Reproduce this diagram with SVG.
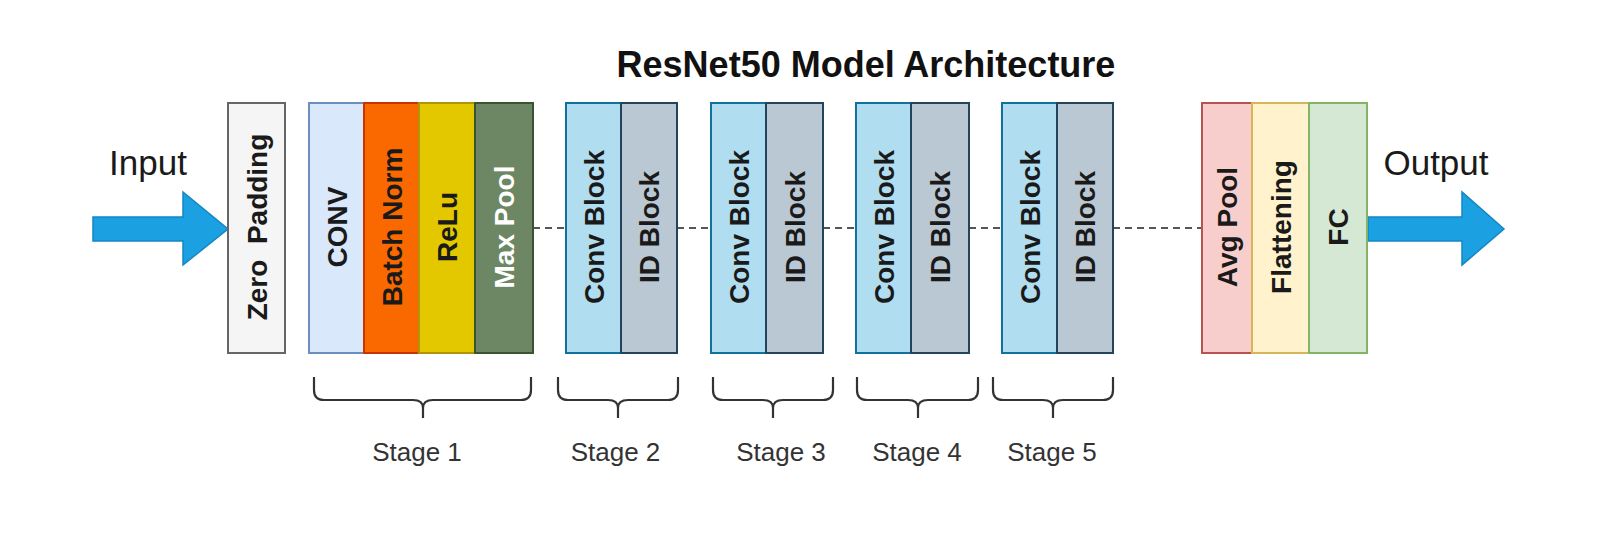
<svg xmlns="http://www.w3.org/2000/svg" width="1612" height="534" viewBox="0 0 1612 534">
<style>
  .blk { stroke-width: 2; }
  .lbl { font-family: "Liberation Sans", Arial, sans-serif; font-size: 28px; font-weight: bold; fill: #1a1a1a; text-anchor: middle; }
  .big { font-family: "Liberation Sans", Arial, sans-serif; font-size: 35px; fill: #1a1a1a; text-anchor: middle; }
  .stage { font-family: "Liberation Sans", Arial, sans-serif; font-size: 26px; fill: #333333; text-anchor: middle; }
  .title { font-family: "Liberation Sans", Arial, sans-serif; font-size: 36px; font-weight: bold; fill: #111111; text-anchor: middle; }
  .dash { stroke: #555555; stroke-width: 2; stroke-dasharray: 7 5; fill: none; }
  .brace { stroke: #333333; stroke-width: 2.2; fill: none; }
  .arrow { fill: #1ba1e2; stroke: #1386c4; stroke-width: 1.5; }
  .zp { fill: #f5f5f5; stroke: #666666; }
  .conv { fill: #dae8fc; stroke: #6c8ebf; }
  .bn { fill: #fa6800; stroke: #c73500; }
  .relu { fill: #e3c800; stroke: #b09500; }
  .mp { fill: #6d8764; stroke: #3a5431; }
  .cb { fill: #b1ddf0; stroke: #10739e; }
  .idb { fill: #bac8d3; stroke: #23445d; }
  .avg { fill: #f8cecc; stroke: #b85450; }
  .flat { fill: #fff2cc; stroke: #d6b656; }
  .fc { fill: #d5e8d4; stroke: #82b366; }
</style>

<text id="title" class="title" x="866" y="77">ResNet50 Model Architecture</text>

<g id="input">
  <text class="big" x="148" y="175">Input</text>
  <polygon class="arrow" points="93,217 183,217 183,192 228,229 183,265 183,241 93,241"/>
</g>

<g id="output">
  <text class="big" x="1436" y="175">Output</text>
  <polygon class="arrow" points="1368,217 1462,217 1462,192 1504,229 1462,265 1462,241 1368,241"/>
</g>

<g id="connectors">
  <line class="dash" x1="533" y1="228" x2="566" y2="228"/>
  <line class="dash" x1="677" y1="228" x2="711" y2="228"/>
  <line class="dash" x1="823" y1="228" x2="856" y2="228"/>
  <line class="dash" x1="969" y1="228" x2="1002" y2="228"/>
  <line class="dash" x1="1113" y1="228" x2="1202" y2="228"/>
</g>

<g id="zero-padding">
  <rect class="blk zp" x="228" y="103" width="57" height="250"/>
  <text class="lbl" xml:space="preserve" transform="translate(256.5,227) rotate(-90)" x="0" y="10">Zero  Padding</text>
</g>

<g id="stage1">
  <g id="conv">
    <rect class="blk conv" x="309" y="103" width="55" height="250"/>
    <text class="lbl" transform="translate(336.5,227) rotate(-90)" x="0" y="10">CONV</text>
  </g>
  <g id="batch-norm">
    <rect class="blk bn" x="364" y="103" width="55" height="250"/>
    <text class="lbl" transform="translate(391.5,227) rotate(-90)" x="0" y="10">Batch Norm</text>
  </g>
  <g id="relu">
    <rect class="blk relu" x="419" y="103" width="56" height="250"/>
    <text class="lbl" transform="translate(447,227) rotate(-90)" x="0" y="10">ReLu</text>
  </g>
  <g id="max-pool">
    <rect class="blk mp" x="475" y="103" width="58" height="250"/>
    <text class="lbl" style="fill:#ffffff" transform="translate(504,227) rotate(-90)" x="0" y="10">Max Pool</text>
  </g>
</g>

<g id="stage2">
  <g id="s2-conv">
    <rect class="blk cb" x="566" y="103" width="55" height="250"/>
    <text class="lbl" transform="translate(593.5,227) rotate(-90)" x="0" y="10">Conv Block</text>
  </g>
  <g id="s2-id">
    <rect class="blk idb" x="621" y="103" width="56" height="250"/>
    <text class="lbl" transform="translate(649,227) rotate(-90)" x="0" y="10">ID Block</text>
  </g>
</g>

<g id="stage3">
  <g id="s3-conv">
    <rect class="blk cb" x="711" y="103" width="55" height="250"/>
    <text class="lbl" transform="translate(738.5,227) rotate(-90)" x="0" y="10">Conv Block</text>
  </g>
  <g id="s3-id">
    <rect class="blk idb" x="766" y="103" width="57" height="250"/>
    <text class="lbl" transform="translate(794.5,227) rotate(-90)" x="0" y="10">ID Block</text>
  </g>
</g>

<g id="stage4">
  <g id="s4-conv">
    <rect class="blk cb" x="856" y="103" width="55" height="250"/>
    <text class="lbl" transform="translate(883.5,227) rotate(-90)" x="0" y="10">Conv Block</text>
  </g>
  <g id="s4-id">
    <rect class="blk idb" x="911" y="103" width="58" height="250"/>
    <text class="lbl" transform="translate(940,227) rotate(-90)" x="0" y="10">ID Block</text>
  </g>
</g>

<g id="stage5">
  <g id="s5-conv">
    <rect class="blk cb" x="1002" y="103" width="55" height="250"/>
    <text class="lbl" transform="translate(1029.5,227) rotate(-90)" x="0" y="10">Conv Block</text>
  </g>
  <g id="s5-id">
    <rect class="blk idb" x="1057" y="103" width="56" height="250"/>
    <text class="lbl" transform="translate(1085,227) rotate(-90)" x="0" y="10">ID Block</text>
  </g>
</g>

<g id="head">
  <g id="avg-pool">
    <rect class="blk avg" x="1202" y="103" width="50" height="250"/>
    <text class="lbl" transform="translate(1227,227) rotate(-90)" x="0" y="10">Avg Pool</text>
  </g>
  <g id="flattening">
    <rect class="blk flat" x="1252" y="103" width="57" height="250"/>
    <text class="lbl" transform="translate(1280.5,227) rotate(-90)" x="0" y="10">Flattening</text>
  </g>
  <g id="fc">
    <rect class="blk fc" x="1309" y="103" width="58" height="250"/>
    <text class="lbl" transform="translate(1338,227) rotate(-90)" x="0" y="10">FC</text>
  </g>
</g>

<g id="braces">
  <path class="brace" d="M314,377 L314,390 Q314,400 324,400 L413,400 Q423,400 423,408 Q423,400 433,400 L521,400 Q531,400 531,390 L531,377 M423,408 L423,418"/>
  <path class="brace" d="M558,377 L558,390 Q558,400 568,400 L608,400 Q618,400 618,408 Q618,400 628,400 L668,400 Q678,400 678,390 L678,377 M618,408 L618,418"/>
  <path class="brace" d="M713,377 L713,390 Q713,400 723,400 L763,400 Q773,400 773,408 Q773,400 783,400 L823,400 Q833,400 833,390 L833,377 M773,408 L773,418"/>
  <path class="brace" d="M857,377 L857,390 Q857,400 867,400 L908,400 Q918,400 918,408 Q918,400 928,400 L968,400 Q978,400 978,390 L978,377 M918,408 L918,418"/>
  <path class="brace" d="M993,377 L993,390 Q993,400 1003,400 L1043,400 Q1053,400 1053,408 Q1053,400 1063,400 L1103,400 Q1113,400 1113,390 L1113,377 M1053,408 L1053,418"/>
</g>

<g id="stage-labels">
  <text class="stage" x="417" y="461">Stage 1</text>
  <text class="stage" x="615.5" y="461">Stage 2</text>
  <text class="stage" x="781" y="461">Stage 3</text>
  <text class="stage" x="917" y="461">Stage 4</text>
  <text class="stage" x="1052" y="461">Stage 5</text>
</g>
</svg>
